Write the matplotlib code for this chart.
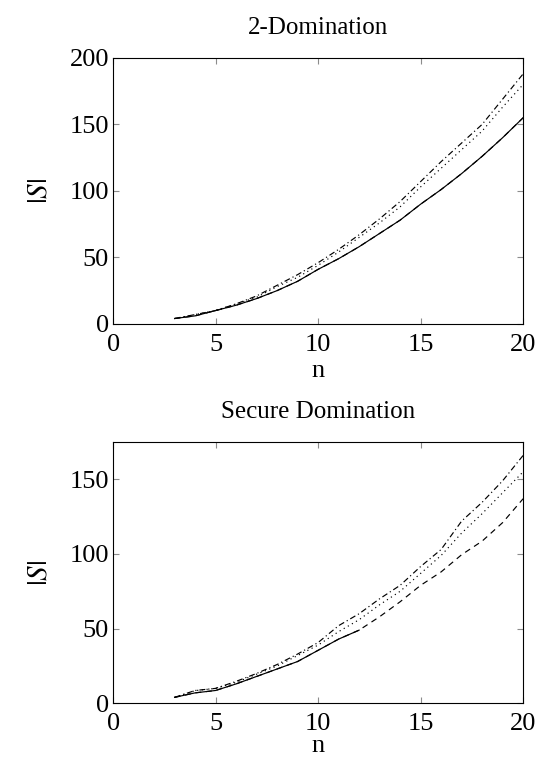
import numpy as np
import matplotlib
matplotlib.use('Agg')
import matplotlib.pyplot as plt

plt.rcParams['font.family'] = ['Liberation Serif', 'DejaVu Serif']
plt.rcParams['mathtext.fontset'] = 'stix'

n_all = list(range(3, 21))
n_exact = list(range(3, 13))

# 2-Domination
dom_solid = [4, 6, 10, 14, 19, 25, 32, 41, 49, 58, 68, 78, 90, 101, 113, 126, 140, 155]
dom_dashed = [4, 6, 10, 14, 19, 25, 32, 41, 49, 58, 68, 78, 90, 101, 113, 126, 140, 155]
dom_dotted = [4, 7, 10, 15, 20, 28, 35, 44, 54, 65, 76, 88, 103, 117, 131, 145, 163, 180]
dom_dashdot = [4, 7, 10, 15, 21, 29, 37, 46, 56, 67, 79, 92, 107, 122, 136, 150, 169, 188]

# Secure Domination
sec_solid = [4, 7, 8.6, 13, 18, 23, 28, 35.5, 43, 49]
sec_dashed = [4, 7, 8.6, 13, 18, 23, 28, 35.5, 43, 49, 58, 68, 79, 88, 99.5, 108.6, 121, 137]
sec_dotted = [4, 8.5, 10, 14, 19.5, 25, 32, 39, 48, 56, 66, 75, 87, 99, 114, 127, 141, 155]
sec_dashdot = [4, 8.6, 10, 14.7, 20, 26, 33, 40.7, 52, 60, 70, 79, 91.6, 103, 122, 134.6, 149, 166]

fig = plt.figure(figsize=(5.36, 7.62), dpi=100)
ax1 = fig.add_axes([0.211, 0.575, 0.765, 0.349])
ax2 = fig.add_axes([0.211, 0.077, 0.765, 0.343])

def styl(ax, title, ymax, yticks, xpad):
    ax.set_xlim(0, 20)
    ax.set_ylim(0, ymax)
    ax.set_xticks([0, 5, 10, 15, 20])
    ax.set_yticks(yticks)
    ax.tick_params(direction='in', length=4, width=0.8, color='#8c8c8c',
                   top=True, right=True, labelsize=19)
    ax.tick_params(axis='x', pad=7)
    ax.tick_params(axis='y', pad=3)
    for s in ax.spines.values():
        s.set_linewidth(0.8)
    ax.set_title(title, fontsize=18, pad=17)
    ax.set_xlabel('n', fontsize=19, labelpad=xpad)
    ax.set_ylabel('$|S|$', fontsize=21, labelpad=12)

lw = 0.85
ax1.plot(n_all, dom_solid, color='black', lw=lw, ls='-')
ax1.plot(n_all, dom_dashed, color='black', lw=lw, ls=(0, (5, 4)))
ax1.plot(n_all, dom_dotted, color='black', lw=lw, ls=(0, (1, 3)))
ax1.plot(n_all, dom_dashdot, color='black', lw=lw, ls=(0, (5, 2.5, 1, 2.5)))
styl(ax1, '2-Domination', 200, [0, 50, 100, 150, 200], 3)

ax2.plot(n_exact, sec_solid, color='black', lw=lw, ls='-')
ax2.plot(n_all, sec_dashed, color='black', lw=lw, ls=(0, (5, 4)))
ax2.plot(n_all, sec_dotted, color='black', lw=lw, ls=(0, (1, 3)))
ax2.plot(n_all, sec_dashdot, color='black', lw=lw, ls=(0, (5, 2.5, 1, 2.5)))
styl(ax2, 'Secure Domination', 175, [0, 50, 100, 150], 0)

fig.savefig('out.png', dpi=100)
